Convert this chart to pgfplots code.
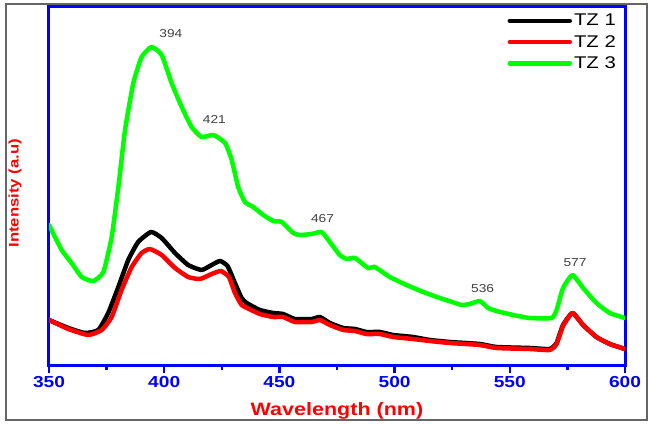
\documentclass[border=0pt]{standalone}
\usepackage{pgfplots}
\pgfplotsset{compat=1.18}
\usepackage{fontspec}
\setmainfont{Liberation Sans}[FakeStretch=1.2]
\definecolor{axblue}{RGB}{0,0,255}
\definecolor{lred}{RGB}{255,0,0}
\definecolor{lgreen}{RGB}{0,255,0}
\begin{document}
\begin{tikzpicture}
\begin{axis}[
 at={(0bp,0bp)}, anchor=south west,
 scale only axis, width=576bp, height=358bp,
 xmin=350, xmax=600, ymin=0, ymax=358,
 axis line style={axblue, line width=3bp},
 xtick={350,400,...,600}, minor xtick={375,425,...,575},
 xtick pos=bottom, ytick=\empty,
 tick align=outside,
 major tick length=8bp, minor tick length=5bp,
 every tick/.style={axblue, line width=2.5bp},
 /pgf/number format/assume math mode=true,
 /pgf/number format/1000 sep={},
 xticklabel style={font=\fontsize{16}{16}\selectfont\bfseries, text=axblue},
 xlabel={Wavelength (nm)},
 xlabel style={font=\fontsize{18}{18}\selectfont\bfseries, text=lred, at={(axis description cs:0.5,-0.128)}, anchor=center},
 ylabel={Intensity (a.u)},
 ylabel style={font=\fontsize{14}{14}\selectfont\bfseries, text=lred, at={(axis description cs:-0.059,0.48)}, anchor=center},
 legend style={at={(rel axis cs:1,1)}, anchor=north east, xshift=-4bp, yshift=-3bp, draw=none, fill=none, font=\fontsize{17}{17}\selectfont, row sep=4bp},
 legend cell align=left,
 legend image code/.code={\draw[#1] (0bp,0bp) -- (60bp,0bp);},
 every axis plot/.append style={line width=4.5bp, line join=round, line cap=round, smooth, tension=0.3},
]
\addplot[black] coordinates {
(350,45) (358.4,37) (365.6,32) (371.4,35) (375.7,52) (380.1,78) (384.4,105) (388.7,123) (394.3,133) (398.9,127) (404.7,112) (410.4,100) (416.2,95) (420.6,100) (424.2,104) (427.5,99) (430.7,82) (433.6,67) (435.8,62) (441.5,55) (447.3,52) (451.6,51) (456.7,46) (464,46) (467.6,48) (471.9,42) (477.7,37) (482.8,36) (487.8,33) (493.6,33) (499.4,30) (508,28) (515.3,25) (524,23) (537,21) (544.2,18) (558.7,17) (567.3,16) (570.3,22) (573.1,40) (577.2,52) (581.8,40) (587.6,28) (593.4,21) (600,16)
};
\addlegendentry{TZ 1}
\addplot[lred] coordinates {
(350,45) (358.4,36) (367,30) (372.9,35) (377.2,48) (381.5,75) (385.9,98) (390.2,112) (393.8,116) (398.9,110) (404.7,97) (410.4,88) (415.5,86) (420.6,91) (424.6,94) (428.1,88) (430.7,72) (433.6,60) (436,57) (441.5,51) (447.3,48) (451.6,48) (456.7,43) (464,43) (467.6,45) (471.9,40) (477.7,35) (482.8,34) (487.8,31) (493.6,31) (499.4,28) (508,26) (515.3,24) (524,22) (537,20) (544.2,17) (558.7,16) (567.3,15) (570.3,21) (573.1,39) (577.2,52) (581.8,40) (587.6,28) (593.4,21) (600,16)
};
\addlegendentry{TZ 2}
\addplot[lgreen] coordinates {
(350,140) (355.5,115) (359.8,102) (364.2,88) (369.2,84) (373.6,93) (377.2,128) (380.1,178) (383,235) (386.6,282) (390.2,308) (394.5,318) (398.9,310) (403.2,282) (407.6,258) (411.9,238) (416.2,228) (421.3,230) (426.4,222) (429.3,205) (432.1,178) (435,163) (438.6,158) (443,150) (447.3,144) (451,143) (456,132) (458.9,130) (464,131) (468.3,133) (471.9,123) (476.2,110) (479.2,106) (482.8,107) (488.5,97) (491.4,98) (497.9,88) (505.2,80) (512.4,73) (519.6,67) (525,63) (529,60) (532.6,61) (537,64) (540.6,57) (544.2,54) (551.4,50) (558.7,47) (568.1,47) (570.3,55) (573.1,77) (577.2,90) (581.8,77) (587.6,62) (593.4,52) (600,47)
};
\addlegendentry{TZ 3}
\begin{scope}[every node/.style={font=\fontsize{11.5}{12}\selectfont, text=black!75}]
\node at (axis cs:402.9,331) {394};
\node at (axis cs:421.8,245) {421};
\node at (axis cs:468.7,146) {467};
\node at (axis cs:538.2,76) {536};
\node at (axis cs:578.3,102) {577};
\end{scope}
\end{axis}
\draw[black!60, line width=1.2bp] (-43bp,-55bp) rectangle (598bp,361bp);
\pgfresetboundingbox
\path (-49bp,-60bp) rectangle (599bp,365bp);
\end{tikzpicture}
\end{document}
